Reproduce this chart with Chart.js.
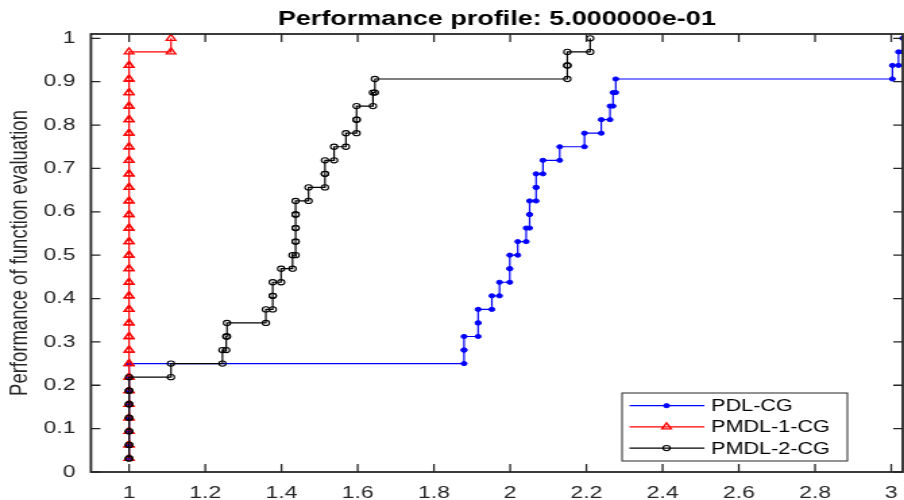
<!DOCTYPE html>
<html>
<head>
<meta charset="utf-8">
<script src="https://cdn.jsdelivr.net/npm/chart.js@4.4.0/dist/chart.umd.min.js"></script>
<style>
  html, body { margin: 0; padding: 0; background: #fff; overflow: hidden; }
  /* the reference figure is stretched sideways, so draw narrow and stretch */
  #wrap { width: 670px; height: 500px; transform: scaleX(1.3493); transform-origin: 0 0; }
</style>
</head>
<body>
<div id="wrap"><canvas id="c"></canvas></div>
<script>
const nProblems = 32;
const seriesNames = ['PDL-CG', 'PMDL-1-CG', 'PMDL-2-CG'];

// sorted performance ratios, one per problem
const pdlRatios = [1, 1, 1, 1, 1, 1, 1, 1,
  1.879, 1.879, 1.916, 1.916, 1.952, 1.972, 1.999, 1.999,
  2.020, 2.042, 2.051, 2.051, 2.068, 2.068, 2.086, 2.130,
  2.195, 2.239, 2.262, 2.270, 2.277, 3.003, 3.019, 3.03];
const pmdl1Ratios = [1, 1, 1, 1, 1, 1, 1, 1, 1, 1, 1, 1, 1, 1, 1, 1,
  1, 1, 1, 1, 1, 1, 1, 1, 1, 1, 1, 1, 1, 1, 1, 1.11];
const pmdl2Ratios = [1, 1, 1, 1, 1, 1, 1,
  1.11, 1.245, 1.255, 1.257, 1.359, 1.377, 1.377, 1.399, 1.429,
  1.437, 1.437, 1.437, 1.437, 1.471, 1.514, 1.514, 1.538,
  1.569, 1.597, 1.597, 1.640, 1.645, 2.15, 2.15, 2.21];

const xTicks = [1, 1.2, 1.4, 1.6, 1.8, 2, 2.2, 2.4, 2.6, 2.8, 3];
const yTicks = [0, 0.1, 0.2, 0.3, 0.4, 0.5, 0.6, 0.7, 0.8, 0.9, 1];

// same vertices as matlab stairs()
function stairs(ratios) {
  const pts = [{x: ratios[0], y: 1 / nProblems}];
  for (let i = 1; i < ratios.length; i++) {
    pts.push({x: ratios[i], y: i / nProblems});
    pts.push({x: ratios[i], y: (i + 1) / nProblems});
  }
  return pts;
}

Chart.defaults.font.family = "'Liberation Sans', Arial, sans-serif";

const frame = {
  id: 'frame',
  afterDatasetsDraw(chart) {
    const {ctx, chartArea: a, scales: {x, y}} = chart;
    ctx.save();
    ctx.strokeStyle = '#262626';
    ctx.lineWidth = 1.3;
    ctx.beginPath();
    xTicks.forEach(v => {
      const px = x.getPixelForValue(v);
      ctx.moveTo(px, a.bottom); ctx.lineTo(px, a.bottom - 8);
      ctx.moveTo(px, a.top); ctx.lineTo(px, a.top + 8);
    });
    yTicks.forEach(v => {
      const py = y.getPixelForValue(v);
      ctx.moveTo(a.left, py); ctx.lineTo(a.left + 7, py);
      ctx.moveTo(a.right, py); ctx.lineTo(a.right - 7, py);
    });
    ctx.stroke();
    ctx.lineWidth = 1.8;
    ctx.strokeRect(a.left, a.top, a.right - a.left, a.bottom - a.top);
    ctx.restore();
  }
};

function drawMarker(ctx, ds, x, y) {
  ctx.beginPath();
  const r = ds.pointRadius;
  if (ds.pointStyle === 'triangle') {
    ctx.moveTo(x, y - r);
    ctx.lineTo(x + Math.sin(2 * Math.PI / 3) * r, y + r / 2);
    ctx.lineTo(x - Math.sin(2 * Math.PI / 3) * r, y + r / 2);
    ctx.closePath();
  } else {
    ctx.arc(x, y, r, 0, Math.PI * 2);
  }
  ctx.fillStyle = ds.pointBackgroundColor;
  ctx.fill();
  ctx.lineWidth = ds.pointBorderWidth;
  ctx.strokeStyle = ds.pointBorderColor;
  ctx.stroke();
}

const legendBox = {
  id: 'legendBox',
  afterDraw(chart) {
    const {ctx, chartArea: a} = chart;
    const w = 167, h = 68;
    const left = a.right - 41 - w, top = a.bottom - 11 - h;
    ctx.save();
    ctx.fillStyle = '#fff';
    ctx.fillRect(left, top, w, h);
    ctx.strokeStyle = '#262626';
    ctx.lineWidth = 1;
    ctx.strokeRect(left, top, w, h);
    ctx.font = "16px 'Liberation Sans', Arial, sans-serif";
    ctx.textBaseline = 'middle';
    chart.data.datasets.forEach((ds, i) => {
      const ry = top + 12.7 + i * 21.2;
      ctx.beginPath();
      ctx.moveTo(left + 5.5, ry);
      ctx.lineTo(left + 61, ry);
      ctx.strokeStyle = ds.borderColor;
      ctx.lineWidth = ds.borderWidth;
      ctx.stroke();
      drawMarker(ctx, ds, left + 33, ry);
      ctx.fillStyle = '#000';
      ctx.fillText(ds.label, left + 66, ry + 1);
    });
    ctx.restore();
  }
};

new Chart(document.getElementById('c'), {
  type: 'line',
  data: {
    datasets: [{
      label: seriesNames[0],
      data: stairs(pdlRatios),
      borderColor: 'rgb(0,0,255)',
      borderWidth: 1.2,
      pointStyle: 'circle',
      pointRadius: 2.1,
      pointBackgroundColor: 'rgb(0,0,255)',
      pointBorderColor: 'rgb(0,0,255)',
      pointBorderWidth: 1,
      order: 3
    }, {
      label: seriesNames[1],
      data: stairs(pmdl1Ratios),
      borderColor: 'rgb(255,0,0)',
      borderWidth: 1.2,
      pointStyle: 'triangle',
      pointRadius: 4,
      pointBackgroundColor: 'rgba(0,0,0,0)',
      pointBorderColor: 'rgb(255,0,0)',
      pointBorderWidth: 1.3,
      order: 2
    }, {
      label: seriesNames[2],
      data: stairs(pmdl2Ratios),
      borderColor: '#000',
      borderWidth: 1.2,
      pointStyle: 'circle',
      pointRadius: 2.6,
      pointBackgroundColor: 'rgba(0,0,0,0)',
      pointBorderColor: '#000',
      pointBorderWidth: 1.1,
      order: 1
    }]
  },
  options: {
    responsive: true,
    maintainAspectRatio: false,
    animation: false,
    events: [],
    layout: {autoPadding: false, padding: {left: 0, right: 1, top: 0, bottom: 0}},
    plugins: {
      legend: {display: false},
      tooltip: {enabled: false},
      title: {
        display: true,
        text: 'Performance profile: 5.000000e-01',
        fullSize: false,
        color: '#000',
        font: {size: 20, weight: 'bold'},
        padding: {top: 7, bottom: 3}
      }
    },
    scales: {
      x: {
        type: 'linear',
        min: 0.9,
        max: 3.03,
        afterBuildTicks: s => { s.ticks = xTicks.map(v => ({value: v})); },
        afterFit: s => { s.height = 28; s.paddingLeft = 0; s.paddingRight = 0; },
        grid: {display: false, drawTicks: false},
        border: {display: false},
        ticks: {
          font: {size: 17},
          color: '#262626',
          padding: 11,
          maxRotation: 0,
          autoSkip: false,
          callback: v => String(+v.toFixed(1))
        }
      },
      y: {
        type: 'linear',
        min: 0,
        max: 1.01,
        afterBuildTicks: s => { s.ticks = yTicks.map(v => ({value: v})); },
        afterFit: s => { s.width = 67.4; },
        grid: {display: false, drawTicks: false},
        border: {display: false},
        ticks: {
          font: {size: 17},
          color: '#262626',
          padding: 11.4,
          autoSkip: false,
          callback: v => String(+v.toFixed(1))
        },
        title: {
          display: true,
          text: 'Performance of function evaluation',
          color: '#262626',
          font: {size: 18.5},
          padding: {top: 4, bottom: 0}
        }
      }
    }
  },
  plugins: [frame, legendBox]
});
</script>
</body>
</html>
